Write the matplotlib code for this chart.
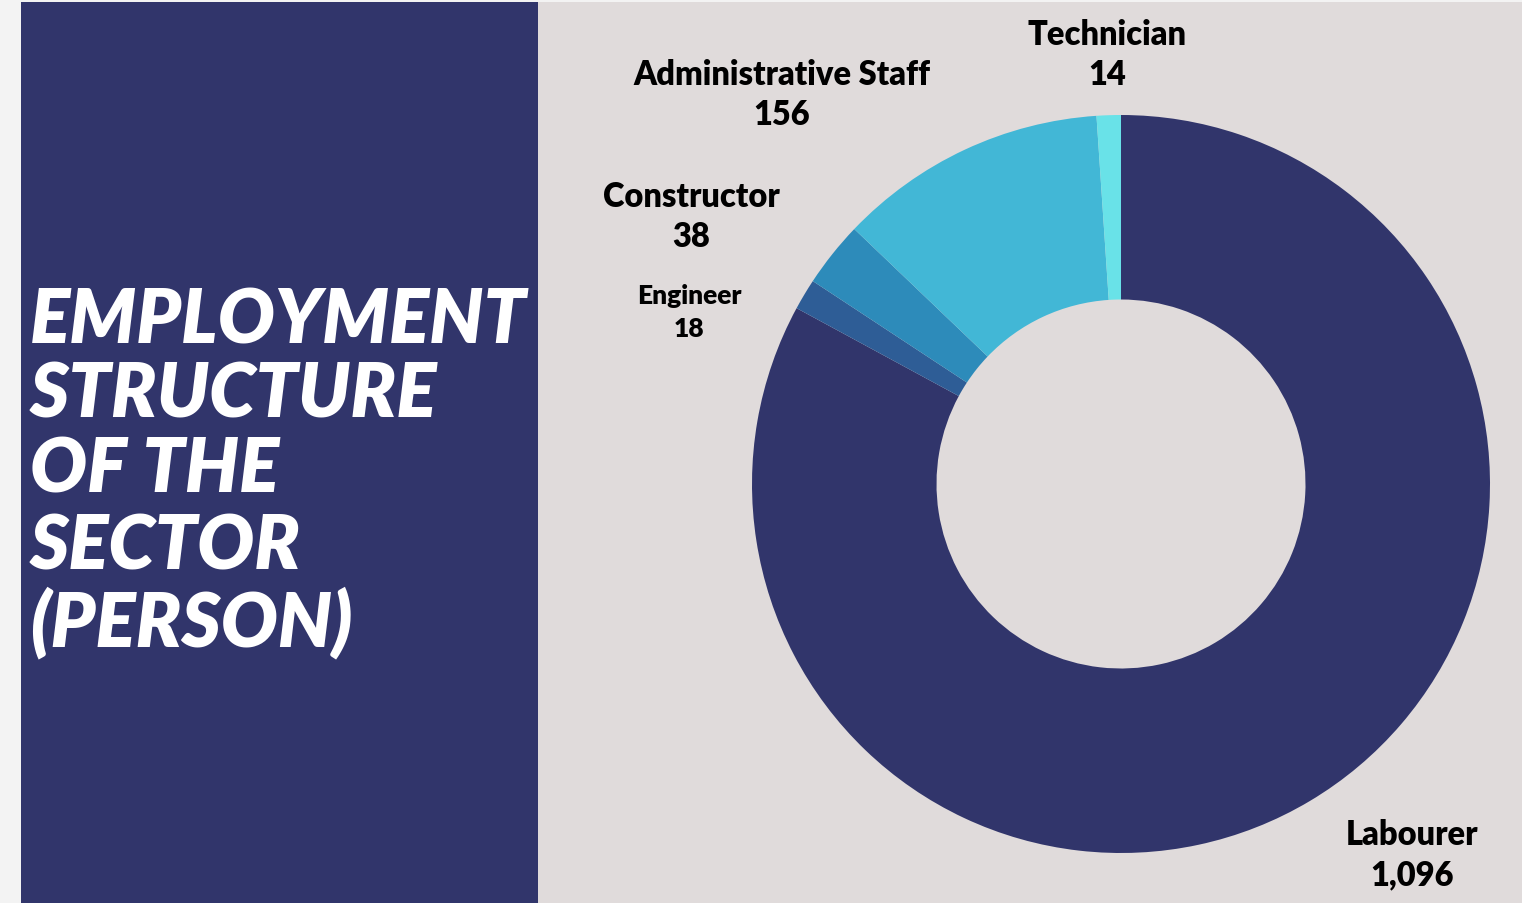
import matplotlib
matplotlib.use("Agg")
import matplotlib.pyplot as plt
from matplotlib.patches import Rectangle

categories = ["Labourer", "Engineer", "Constructor", "Administrative Staff", "Technician"]
values = [1096, 18, 38, 156, 14]
value_labels = ["1,096", "18", "38", "156", "14"]
colors = ["#31356B", "#2E5D96", "#2D8BBA", "#42B7D6", "#69E2E8"]

W, H = 1522, 904
fig = plt.figure(figsize=(W / 100, H / 100), dpi=100)
fig.patch.set_facecolor("#F3F3F3")

def px(x, y):
    return x / W, 1 - y / H

# panels
fig.patches.append(Rectangle(px(538, 904), (W - 538) / W, (904 - 3) / H,
                             transform=fig.transFigure, facecolor="#E0DBDB", edgecolor="none", zorder=-2))
fig.patches.append(Rectangle(px(21, 904), (538 - 21) / W, (904 - 3) / H,
                             transform=fig.transFigure, facecolor="#31356B", edgecolor="none", zorder=-2))

# title
title_lines = ["EMPLOYMENT", "STRUCTURE", "OF THE", "SECTOR", "(PERSON)"]
line_y = [321, 396, 471, 548, 623]
for t, y in zip(title_lines, line_y):
    x0, y0 = px(30, y)
    fig.text(x0, y0, t, color="white", fontsize=54, fontweight="heavy", fontstyle="italic",
             family=["Lato", "DejaVu Sans"], ha="left", va="center")

# donut
cx, cy, r = 1121, 485, 369
ax = fig.add_axes([(cx - r) / W, (H - cy - r) / H, 2 * r / W, 2 * r / H])
ax.set_zorder(2)
ax.pie(values, colors=colors, startangle=90, counterclock=False, radius=1.0,
       wedgeprops=dict(width=0.5, edgecolor="none", linewidth=0))
ax.set_xlim(-1, 1)
ax.set_ylim(-1, 1)
ax.set_aspect("equal")
ax.axis("off")

# labels
label_pos = {
    "Technician": (1107, 35, 75, 23.5),
    "Administrative Staff": (782, 75, 115, 23.5),
    "Constructor": (691, 197, 237, 23.5),
    "Engineer": (689, 296, 329, 19),
    "Labourer": (1412, 835, 875, 23.5),
}
for cat, val in zip(categories, value_labels):
    x, y1, y2, fs = label_pos[cat]
    for txt, yy in ((cat, y1), (val, y2)):
        xx, yy2 = px(x, yy)
        fig.text(xx, yy2, txt, color="black", fontsize=fs, fontweight="heavy",
                 family=["Lato", "DejaVu Sans"], ha="center", va="center", zorder=3)

fig.savefig("out.png", dpi=100, facecolor=fig.get_facecolor())
